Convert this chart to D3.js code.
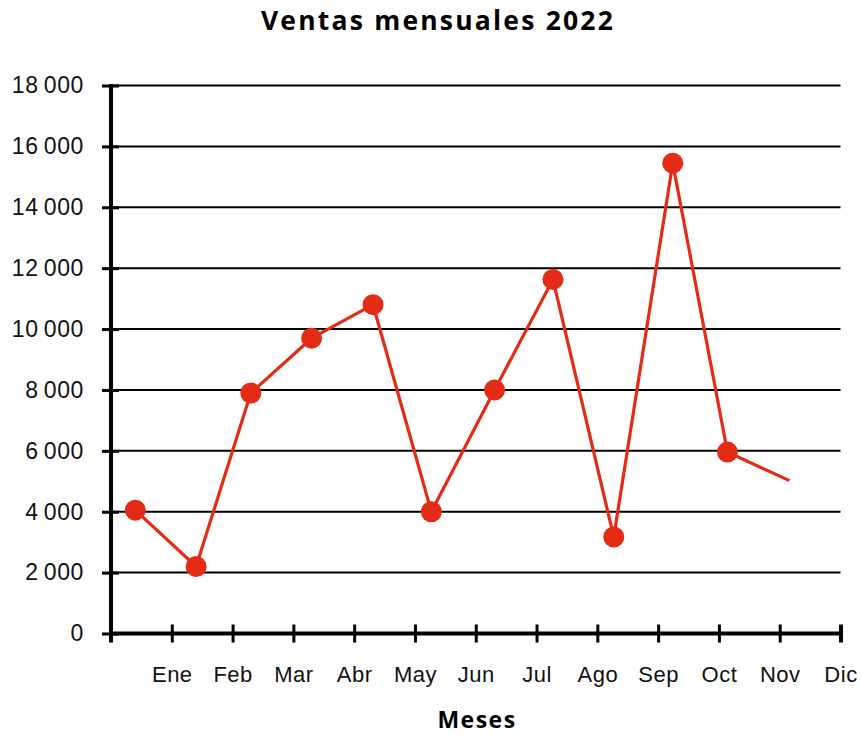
<!DOCTYPE html>
<html>
<head>
<meta charset="utf-8">
<script src="https://cdn.jsdelivr.net/npm/d3@7"></script>
<style>
  body { margin: 0; background: #fff; }
  svg { display: block; font-family: 'Open Sans', sans-serif; }
  .grid line { stroke: #000; stroke-width: 2; }
</style>
</head>
<body>
<div id="chart"></div>
<script>
// chart data
let months = ['Ene', 'Feb', 'Mar', 'Abr', 'May', 'Jun', 'Jul', 'Ago', 'Sep', 'Oct', 'Nov', 'Dic']
// where each point sits along the month axis (points are not centred on the ticks)
let monthPos = [0.4, 1.4, 2.3, 3.3, 4.31, 5.27, 6.31, 7.27, 8.27, 9.24, 10.14, 11.16]
let sales = [4050, 2200, 7900, 9700, 10800, 4000, 8000, 11630, 3170, 15450, 5960, 5020]
let yTicks = [0, 2000, 4000, 6000, 8000, 10000, 12000, 14000, 16000, 18000]
let markedPoints = 11 // the last value is drawn as a line end, without a dot

let width = 861,
  height = 734,
  margin = { top: 85.5, right: 20.5, bottom: 100.5, left: 111 },
  red = '#e32b16'

let svg = d3.select('#chart').append('svg')
  .attr('width', width)
  .attr('height', height)

let x = d3.scaleLinear()
  .domain([0, months.length])
  .range([margin.left, width - margin.right])

let y = d3.scaleLinear()
  .domain([0, 18000])
  .range([height - margin.bottom, margin.top])

let fmt = d3.formatLocale({ decimal: ',', thousands: '\u2009', grouping: [3], currency: ['', ''] }).format(',d')

// horizontal grid lines
svg.append('g')
  .attr('class', 'grid')
  .selectAll('line')
  .data(yTicks.filter(d => d > 0))
  .enter().append('line')
  .attr('x1', x(0))
  .attr('x2', x(months.length))
  .attr('y1', d => y(d))
  .attr('y2', d => y(d))

// y axis
let yAxis = svg.append('g')
  .attr('transform', 'translate(' + x(0) + ',0)')
  .call(d3.axisLeft(y).tickValues(yTicks).tickFormat(fmt).tickSize(9).tickPadding(18))
yAxis.select('.domain').attr('stroke', '#000').attr('stroke-width', 4)
  .attr('d', 'M0,' + (y(0) + 9) + 'V' + (y(18000) - 1.5))
yAxis.selectAll('.tick line').attr('stroke', '#000').attr('stroke-width', 3).attr('x2', 8).attr('x1', -9)
yAxis.selectAll('.tick text').attr('font-size', 23).attr('letter-spacing', 0.6).attr('fill', '#111')

// x axis
let xAxis = svg.append('g')
  .attr('transform', 'translate(0,' + y(0) + ')')
  .call(d3.axisBottom(x).tickValues(d3.range(1, months.length + 1)).tickFormat(d => months[d - 1]).tickSize(9).tickPadding(24))
xAxis.select('.domain').attr('stroke', '#000').attr('stroke-width', 4)
  .attr('d', 'M' + (x(0) - 2) + ',0H' + x(months.length))
xAxis.selectAll('.tick line').attr('stroke', '#000').attr('stroke-width', 3).attr('y1', -9)
xAxis.selectAll('.tick text').attr('font-size', 22).attr('letter-spacing', 0.5).attr('fill', '#111')
xAxis.select('.tick:last-of-type line').attr('stroke-width', 4)

// series
let points = sales.map((v, i) => ({ pos: monthPos[i], value: v }))

let line = d3.line()
  .x(d => x(d.pos))
  .y(d => y(d.value))

svg.append('path')
  .datum(points)
  .attr('fill', 'none')
  .attr('stroke', red)
  .attr('stroke-width', 3.2)
  .attr('stroke-linejoin', 'round')
  .attr('d', line)

svg.selectAll('.dot')
  .data(points.slice(0, markedPoints))
  .enter().append('circle')
  .attr('class', 'dot')
  .attr('cx', d => x(d.pos))
  .attr('cy', d => y(d.value))
  .attr('r', 10.5)
  .attr('fill', red)

// titles
svg.append('text')
  .attr('x', 438)
  .attr('y', 29.5)
  .attr('text-anchor', 'middle')
  .attr('font-size', 26.5)
  .attr('font-weight', 'bold')
  .attr('letter-spacing', 2.2)
  .text('Ventas mensuales 2022')

svg.append('text')
  .attr('x', 477)
  .attr('y', 728)
  .attr('text-anchor', 'middle')
  .attr('font-size', 23)
  .attr('font-weight', 'bold')
  .attr('letter-spacing', 1.5)
  .text('Meses')
</script>
</body>
</html>
